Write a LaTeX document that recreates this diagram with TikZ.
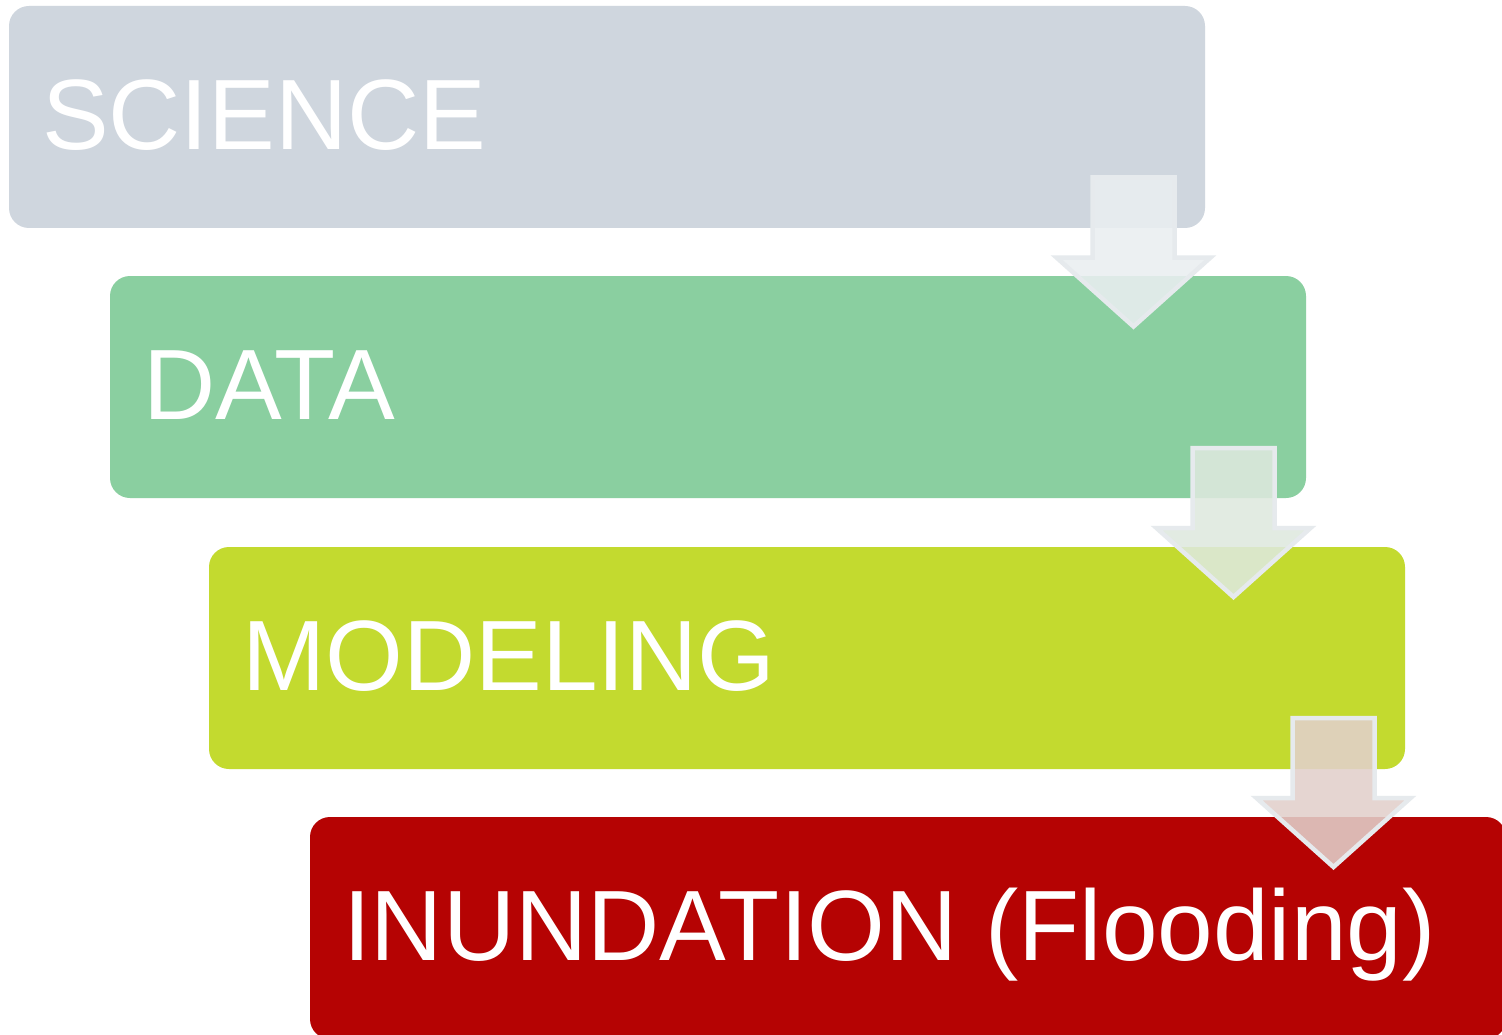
\documentclass[tikz,border=0pt]{standalone}
\usepackage{fontspec}
\setmainfont{Liberation Sans}
\usetikzlibrary{calc}
\definecolor{cscience}{RGB}{207,214,222}
\definecolor{cdata}{RGB}{138,207,160}
\definecolor{cmodel}{RGB}{195,218,47}
\definecolor{cflood}{RGB}{181,3,3}
\definecolor{arrline}{RGB}{230,234,237}
\definecolor{arrA}{RGB}{234,238,241}
\definecolor{arrB}{RGB}{222,233,222}
\definecolor{arrC}{RGB}{226,208,203}
\begin{document}
\begin{tikzpicture}[x=1pt,y=-1pt,
  stagebox/.style={rectangle, rounded corners=20pt, minimum width=1196pt, minimum height=222pt, inner sep=0pt, draw=none},
  stagetext/.style={anchor=base west, inner sep=0pt, text=white, font=\fontsize{100}{120}\selectfont},
  flowarrow/.style={draw=arrline, line width=4.5pt, line join=miter, fill opacity=0.88}]
\clip (0,0) rectangle (1502,1035);
\fill[white] (0,0) rectangle (1502,1035);
% boxes
\node[stagebox, fill=cscience] (b1) at (607,117) {};
\node[stagebox, fill=cdata]    (b2) at (708,387) {};
\node[stagebox, fill=cmodel]   (b3) at (807,658) {};
\node[stagebox, fill=cflood]   (b4) at (908,928) {};
% texts
\node[stagetext] (t1) at ($(b1.south west)+(33,-79)$) {SCIENCE};
\node[stagetext] (t2) at ($(b2.south west)+(33,-79)$) {DATA};
\node[stagetext] (t3) at ($(b3.south west)+(33,-79)$) {MODELING};
\node[stagetext] (t4) at ($(b4.south west)+(33,-79)$) {INUNDATION (Flooding)};
% arrows
\coordinate (a1) at (1133.5,177.5);
\coordinate (a2) at (1233.5,448);
\coordinate (a3) at (1333.5,718);
\foreach \c/\col in {a1/arrA, a2/arrB, a3/arrC}{
  \draw[flowarrow, fill=\col]
    ($(\c)+(-41,0)$) -- ($(\c)+(41,0)$) -- ($(\c)+(41,80)$) -- ($(\c)+(77,80)$)
    -- ($(\c)+(0,149)$) -- ($(\c)+(-77,80)$) -- ($(\c)+(-41,80)$) -- cycle;
}
\end{tikzpicture}
\end{document}
